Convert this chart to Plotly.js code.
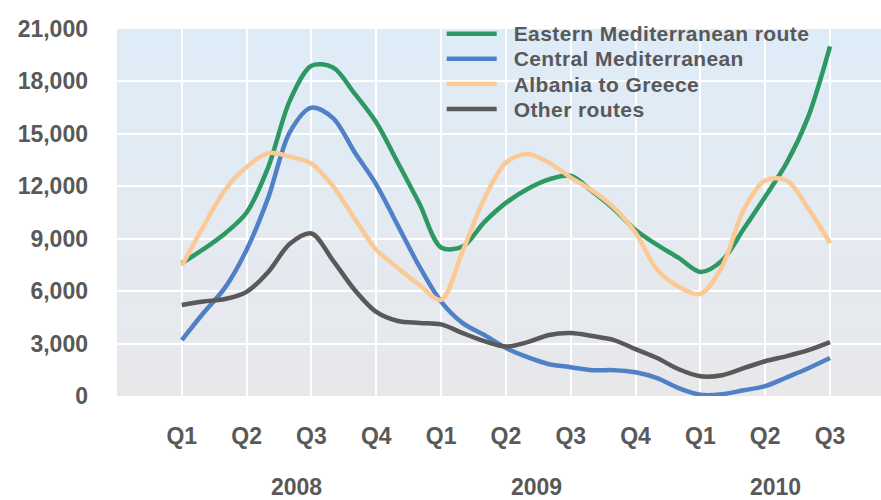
<!DOCTYPE html>
<html>
<head>
<meta charset="utf-8">
<script src="https://cdn.plot.ly/plotly-3.0.1.min.js"></script>
<style>html,body{margin:0;padding:0;background:#fff}#chart{width:881px;height:500px}
#chart .legendtext{font-size:21px !important;letter-spacing:0.4px;transform:translate(12px,1px)}
#chart .legend .scrollbox{clip-path:none !important}</style>
</head>
<body>
<div id="chart"></div>
<script>
// Monthly observations, Q1 2008 (index 0) .. Q3 2010 (index 30)
var months = [0,1,2,3,4,5,6,7,8,9,10,11,12,13,14,15,16,17,18,19,20,21,22,23,24,25,26,27,28,29,30];
var eastern = [7600,8400,9300,10500,13100,16900,18900,18800,17300,15650,13350,11000,8500,8550,9950,11050,11850,12400,12600,11700,10700,9500,8650,7900,7100,7750,9550,11400,13350,16000,20000];
var central = [3200,4750,6200,8370,11350,15100,16500,15900,13950,12100,9750,7400,5400,4170,3490,2750,2220,1820,1650,1480,1480,1360,1020,450,70,100,330,560,1070,1590,2170];
var albania = [7450,9700,11800,13100,13900,13700,13300,12000,10150,8370,7330,6350,5500,8300,11300,13350,13850,13350,12500,11750,10780,9340,7220,6250,5840,7390,10650,12330,12330,10720,8750];
var other = [5210,5410,5550,5960,7100,8710,9300,7750,6070,4810,4290,4180,4100,3600,3140,2830,3080,3490,3600,3430,3200,2680,2170,1530,1130,1190,1590,1990,2280,2620,3080];

var tickPos = [0,3,6,9,12,15,18,21,24,27,30];
var tickText = ['Q1','Q2','Q3','Q4','Q1','Q2','Q3','Q4','Q1','Q2','Q3'];
var years = ['2008','2009','2010'];
var yearPos = [5.3,16.4,27.5];

var seriesNames = ['Eastern Mediterranean route','Central Mediterranean','Albania to Greece','Other routes'];
var seriesData = [eastern, central, albania, other];
var seriesColors = ['#2e9863','#5081c6','#fbc995','#595959'];

var traces = seriesData.map(function(d,i){
  return {x: months, y: d, name: seriesNames[i], type:'scatter', mode:'lines',
    line:{color: seriesColors[i], width:4.5, shape:'spline', smoothing:0.9}};
});

// gradient background bands (style only)
var gradTop = [222,236,248], gradBot = [232,232,234];
var shapes = [];
var N = 40;
for (var k=0;k<N;k++){
  var t = (k+0.5)/N;
  var c = gradTop.map(function(v,j){return Math.round(v + (gradBot[j]-v)*t);});
  shapes.push({type:'rect', xref:'paper', yref:'paper', x0:0, x1:1, y1:1-k/N, y0:Math.max(0,1-(k+1)/N - 0.002),
    fillcolor:'rgb('+c.join(',')+')', line:{width:0}, layer:'below'});
}

var annotations = years.map(function(y,i){
  return {x: yearPos[i], y:0, xref:'x', yref:'paper', yshift:-106, text:y, showarrow:false,
    font:{family:'Liberation Sans, Arial, sans-serif', size:23, color:'#595959', weight:'bold'}};
});

var layout = {
  width:881, height:500,
  margin:{l:117, r:0, t:29, b:104, pad:0},
  paper_bgcolor:'#ffffff', plot_bgcolor:'rgba(0,0,0,0)',
  font:{family:'Liberation Sans, Arial, sans-serif', color:'#595959'},
  showlegend:true,
  legend:{x:0.425, y:1.035, xanchor:'left', yanchor:'top', bgcolor:'rgba(0,0,0,0)',
    font:{size:17, color:'#595959', weight:'bold'}, tracegroupgap:0, itemwidth:50},
  xaxis:{range:[-3,32.36], tickmode:'array', tickvals:tickPos, ticktext:tickText,
    showgrid:true, gridcolor:'#ffffff', gridwidth:2, zeroline:false, showline:false, ticks:'',
    ticklabelstandoff:24, tickfont:{size:23, color:'#595959', weight:'bold'}},
  yaxis:{range:[0,21000], dtick:3000, tick0:0, tickformat:',', showgrid:true, gridcolor:'#ffffff', gridwidth:2,
    zeroline:false, showline:false, ticks:'', ticklabelstandoff:28,
    tickfont:{size:23, color:'#595959', weight:'bold'}},
  shapes: shapes,
  annotations: annotations
};

Plotly.newPlot('chart', traces, layout, {displayModeBar:false, staticPlot:true});
</script>
</body>
</html>
